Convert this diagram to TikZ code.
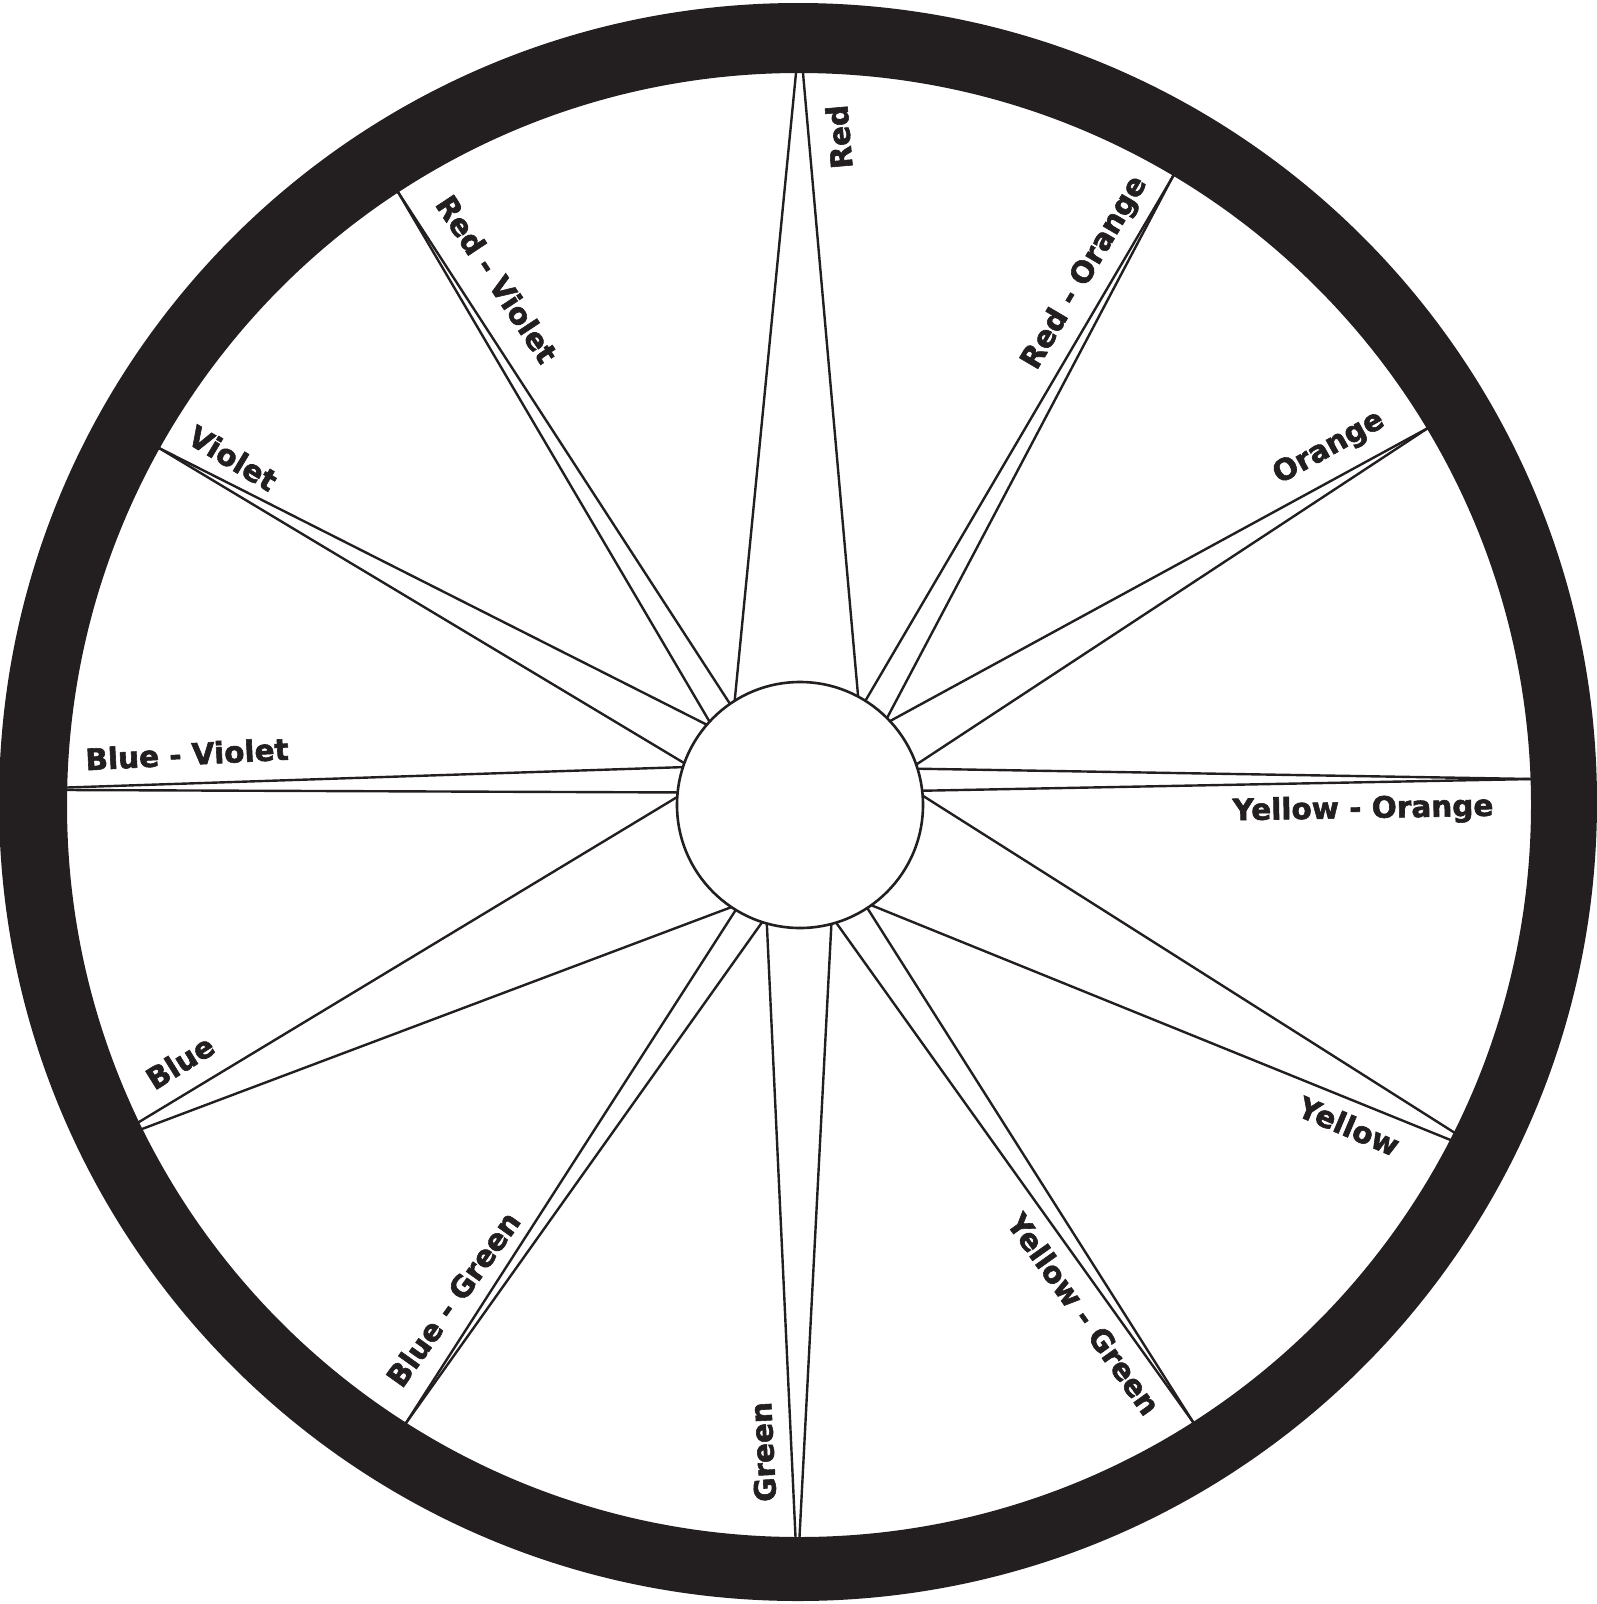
\documentclass[tikz,border=0pt]{standalone}
\usepackage{fontspec}
\newfontfamily\lblfont[FakeBold=2]{DejaVu Sans Bold}
\definecolor{ringc}{RGB}{35,31,32}
\begin{document}
\begin{tikzpicture}[x=1pt,y=-1pt,
  spoke/.style={draw=ringc, line width=2.4pt, shorten >=-8pt},
  lbl/.style={font=\lblfont\fontsize{29.5}{30}\selectfont, text=ringc, inner sep=0pt, anchor=center}]
\useasboundingbox (0,0) rectangle (1596,1604);
\coordinate (hc) at (800,805);
% valleys on hub (angles negated because y is flipped)
\path (hc) ++(-124.8:116) coordinate (V1);
\path (hc) ++(-59.5:116) coordinate (V2a);
\path (hc) ++(-57.8:116) coordinate (V2b);
\path (hc) ++(-43.9:116) coordinate (V3);
\path (hc) ++(-18.3:116) coordinate (V4);
\path (hc) ++(-7.0:116) coordinate (V5);
\path (hc) ++(56.8:116) coordinate (V6);
\path (hc) ++(74.1:116) coordinate (V7);
\path (hc) ++(106.8:116) coordinate (V8);
\path (hc) ++(121.4:116) coordinate (V9);
\path (hc) ++(-173.8:116) coordinate (V10);
\path (hc) ++(-160.8:116) coordinate (V11);
\path (hc) ++(-138.4:116) coordinate (V12);
% ring points
\coordinate (R1a) at (796,73);
\coordinate (R1b) at (803,73);
\coordinate (R2) at (1172,178);
\coordinate (R3) at (1428,428);
\coordinate (R4) at (1533,779);
\coordinate (R5a) at (1455,1133);
\coordinate (R5b) at (1453,1141);
\coordinate (R6) at (1193,1422);
\coordinate (R7a) at (795.5,1537);
\coordinate (R7b) at (799.5,1537);
\coordinate (R8) at (406,1423);
\coordinate (R9a) at (139,1122);
\coordinate (R9b) at (142,1129);
\coordinate (R10a) at (67,787.5);
\coordinate (R10b) at (67,790);
\coordinate (R11) at (159,448);
\coordinate (R12) at (398,192);
% spokes
\draw[spoke] (V1) -- (R1a);  \draw[spoke] (V2a) -- (R1b);
\draw[spoke] (V2b) -- (R2);  \draw[spoke] (V3) -- (R2);
\draw[spoke] (V3) -- (R3);   \draw[spoke] (V4) -- (R3);
\draw[spoke] (V4) -- (R4);   \draw[spoke] (V5) -- (R4);
\draw[spoke] (V5) -- (R5a);  \draw[spoke] (V6) -- (R5b);
\draw[spoke] (V6) -- (R6);   \draw[spoke] (V7) -- (R6);
\draw[spoke] (V7) -- (R7b);  \draw[spoke] (V8) -- (R7a);
\draw[spoke] (V8) -- (R8);   \draw[spoke] (V9) -- (R8);
\draw[spoke] (V9) -- (R9b);  \draw[spoke] (V10) -- (R9a);
\draw[spoke] (V10) -- (R10b); \draw[spoke] (V11) -- (R10a);
\draw[spoke] (V11) -- (R11); \draw[spoke] (V12) -- (R11);
\draw[spoke] (V12) -- (R12); \draw[spoke] (V1) -- (R12);
% ring
\fill[ringc, even odd rule] (798,802) circle[radius=799] (799,805) circle[radius=732];
% hub
\node[circle, draw=ringc, fill=white, line width=2.6pt, minimum size=246pt, inner sep=0pt] (hub) at (hc) {};
% labels
\node[lbl, rotate=95] (tR) at (839,137) {Red};
\node[lbl, rotate=59.5] (tRO) at (1085,273) {Red - Orange};
\node[lbl, rotate=29] (tO) at (1329,448) {Orange};
\node[lbl, rotate=1] (tYO) at (1363,810) {Yellow - Orange};
\node[lbl, rotate=-23] (tY) at (1349,1126) {Yellow};
\node[lbl, rotate=-54.5] (tYG) at (1084,1314) {Yellow - Green};
\node[lbl, rotate=93] (tG) at (763,1452) {Green};
\node[lbl, rotate=54.5] (tBG) at (453,1299) {Blue - Green};
\node[lbl, rotate=32] (tB) at (180,1062) {Blue};
\node[lbl, rotate=3] (tBV) at (187,754) {Blue - Violet};
\node[lbl, rotate=-31] (tV) at (233,458) {Violet};
\node[lbl, rotate=-56.5] (tRV) at (497,279) {Red - Violet};
\end{tikzpicture}
\end{document}
